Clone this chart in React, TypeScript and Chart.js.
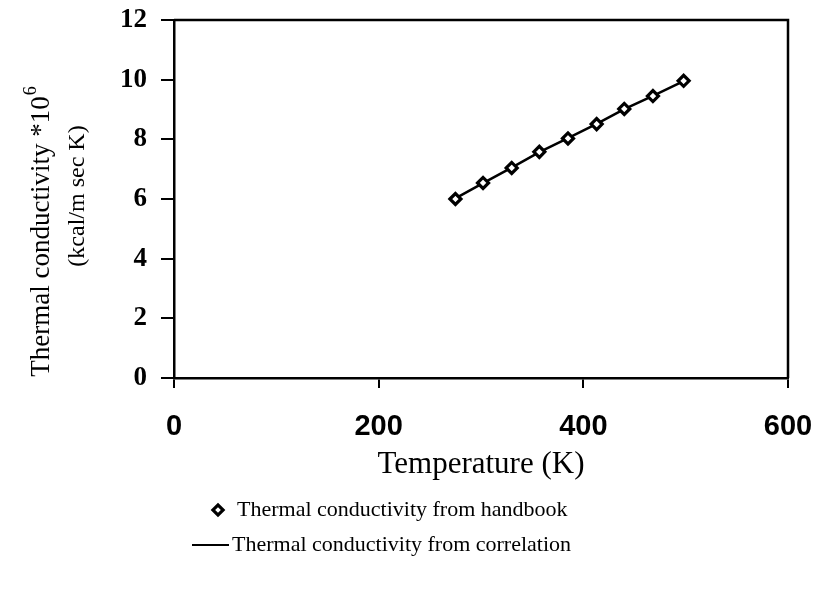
import React, { useEffect, useRef } from "react";
import { Chart, registerables } from "chart.js";

Chart.register(...registerables);

// ---- data ----
const temperatures = [275, 302, 330, 357, 385, 413, 440, 468, 498];
const handbookValues = [6.0, 6.54, 7.04, 7.58, 8.03, 8.51, 9.02, 9.45, 9.96];
const correlationValues = [6.02, 6.53, 7.05, 7.57, 8.04, 8.52, 9.01, 9.46, 9.95];
const xTickValues = [0, 200, 400, 600];
const yTickValues = [0, 2, 4, 6, 8, 10, 12];
const xTitle = "Temperature (K)";
const yTitleLine1 = "Thermal conductivity *10";
const yTitleSup = "6";
const yTitleLine2 = "(kcal/m sec K)";
const legendLabels = [
  "Thermal conductivity from handbook",
  "Thermal conductivity from correlation",
];

const W = 817;
const H = 609;
const SERIF = "'Liberation Serif', 'Times New Roman', serif";
const SANS = "'Liberation Sans', Arial, sans-serif";

function drawDiamond(ctx: CanvasRenderingContext2D, x: number, y: number) {
  ctx.save();
  ctx.translate(x, y);
  ctx.rotate(Math.PI / 4);
  ctx.lineWidth = 3.2;
  ctx.strokeStyle = "#000";
  ctx.fillStyle = "#fff";
  ctx.beginPath();
  ctx.rect(-3.6, -3.6, 7.2, 7.2);
  ctx.fill();
  ctx.stroke();
  ctx.restore();
}

const decorPlugin = {
  id: "decor",
  afterDraw(chart: any) {
    const { ctx, chartArea: a } = chart;
    ctx.save();
    // top and right frame lines
    ctx.strokeStyle = "#000";
    ctx.lineWidth = 2.5;
    ctx.beginPath();
    ctx.moveTo(a.left, a.top);
    ctx.lineTo(a.right, a.top);
    ctx.lineTo(a.right, a.bottom);
    ctx.stroke();

    // y-axis title (two lines, with superscript)
    ctx.fillStyle = "#000";
    const y1Size = 27;
    const supSize = 18;
    ctx.save();
    ctx.translate(42, 232);
    ctx.rotate(-Math.PI / 2);
    ctx.font = `${y1Size}px ${SERIF}`;
    const w1 = ctx.measureText(yTitleLine1).width;
    ctx.font = `${supSize}px ${SERIF}`;
    const w2 = ctx.measureText(yTitleSup).width;
    const start = -(w1 + w2) / 2;
    ctx.textBaseline = "middle";
    ctx.textAlign = "left";
    ctx.font = `${y1Size}px ${SERIF}`;
    ctx.fillText(yTitleLine1, start, 0);
    ctx.font = `${supSize}px ${SERIF}`;
    ctx.fillText(yTitleSup, start + w1 + 1, -11);
    ctx.restore();

    ctx.save();
    ctx.translate(78, 196);
    ctx.rotate(-Math.PI / 2);
    ctx.font = `24px ${SERIF}`;
    ctx.textAlign = "center";
    ctx.textBaseline = "middle";
    ctx.fillText(yTitleLine2, 0, 0);
    ctx.restore();

    // legend
    const lgSize = 22;
    ctx.font = `${lgSize}px ${SERIF}`;
    ctx.textAlign = "left";
    ctx.textBaseline = "middle";
    const ly1 = 510;
    const ly2 = 545;
    drawDiamond(ctx, 218, ly1);
    ctx.fillStyle = "#000";
    ctx.fillText(legendLabels[0], 237, ly1);
    ctx.strokeStyle = "#000";
    ctx.lineWidth = 2;
    ctx.beginPath();
    ctx.moveTo(192, ly2);
    ctx.lineTo(229, ly2);
    ctx.stroke();
    ctx.fillText(legendLabels[1], 232, ly2);

    ctx.restore();
  },
};

export default function App() {
  const ref = useRef<HTMLCanvasElement | null>(null);

  useEffect(() => {
    if (!ref.current) return;
    const handbook = temperatures.map((t, i) => ({ x: t, y: handbookValues[i] }));
    const correlation = temperatures.map((t, i) => ({ x: t, y: correlationValues[i] }));
    const chart = new Chart(ref.current, {
      type: "scatter",
      data: {
        datasets: [
          {
            label: legendLabels[0],
            data: handbook,
            showLine: false,
            pointStyle: "rectRot",
            pointRadius: 5.5,
            pointBorderWidth: 3.2,
            pointBorderColor: "#000",
            pointBackgroundColor: "#fff",
            borderColor: "#000",
            backgroundColor: "#fff",
            order: 0,
          },
          {
            label: legendLabels[1],
            data: correlation,
            showLine: true,
            pointRadius: 0,
            borderColor: "#000",
            borderWidth: 2.5,
            backgroundColor: "#000",
            order: 1,
          },
        ],
      },
      options: {
        responsive: false,
        animation: false,
        events: [],
        layout: { padding: { top: 20, right: 29, left: 0, bottom: 0 } },
        plugins: {
          legend: { display: false },
          tooltip: { enabled: false },
        },
        scales: {
          x: {
            type: "linear",
            min: 0,
            max: 600,
            afterBuildTicks: (s: any) => {
              s.ticks = xTickValues.map((v) => ({ value: v }));
            },
            afterFit: (s: any) => {
              s.height = H - 378;
              s.paddingLeft = 0;
              s.paddingRight = 0;
            },
            grid: {
              drawOnChartArea: false,
              drawTicks: true,
              tickLength: 10,
              color: "#000",
              lineWidth: 2,
            },
            border: { display: true, color: "#000", width: 2.5 },
            ticks: {
              color: "#000",
              padding: 22,
              maxRotation: 0,
              font: { family: SANS, size: 29, weight: "bold" },
            },
            title: {
              display: true,
              text: xTitle,
              color: "#000",
              font: { family: SERIF, size: 31, lineHeight: 1 },
              padding: { top: 0, bottom: H - 465 - 15.5 },
            },
          },
          y: {
            type: "linear",
            min: 0,
            max: 12,
            afterBuildTicks: (s: any) => {
              s.ticks = yTickValues.map((v) => ({ value: v }));
            },
            afterFit: (s: any) => {
              s.width = 174;
              s.paddingTop = 0;
              s.paddingBottom = 0;
            },
            grid: {
              drawOnChartArea: false,
              drawTicks: true,
              tickLength: 13,
              color: "#000",
              lineWidth: 2,
            },
            border: { display: true, color: "#000", width: 2.5 },
            ticks: {
              color: "#000",
              padding: 14,
              font: { family: SERIF, size: 27, weight: "bold" },
            },
          },
        },
      },
      plugins: [decorPlugin],
    });
    return () => chart.destroy();
  }, []);

  return (
    <div style={{ position: "fixed", left: 0, top: 0, width: W, height: H, background: "#fff" }}>
      <canvas ref={ref} width={W} height={H} style={{ width: W, height: H, display: "block" }} />
    </div>
  );
}
